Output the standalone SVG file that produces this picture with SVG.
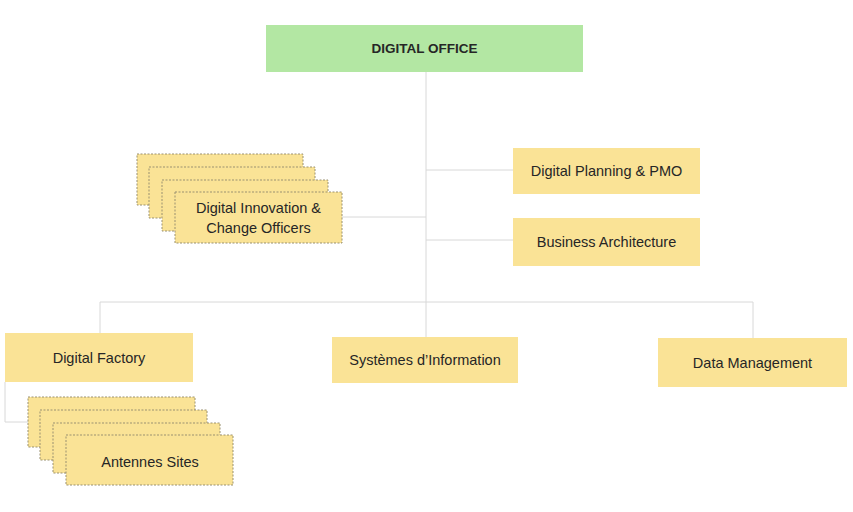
<svg xmlns="http://www.w3.org/2000/svg" width="853" height="512" viewBox="0 0 853 512">
<style>
.box{fill:#fae396;stroke:none}
.stk{fill:#fae396;stroke:#9a9170;stroke-width:1;stroke-dasharray:2 1.5}
.top{fill:#b3e7a3}
.t{font-family:"Liberation Sans",Arial,sans-serif;font-size:14.5px;fill:#262626;text-anchor:middle;dominant-baseline:central}
.b{font-weight:bold;font-size:13.5px}
.ln{stroke:#d8d8d8;stroke-width:1;fill:none}
</style>
<rect width="853" height="512" fill="#ffffff"/>
<g id="connectors">
<path class="ln" d="M426 72 V337"/>
<path class="ln" d="M426 170 H513"/>
<path class="ln" d="M426 240 H513"/>
<path class="ln" d="M342 217 H426"/>
<path class="ln" d="M100 333 V302 H753 V338"/>
<path class="ln" d="M5 382 V422 H28"/>
</g>
<g id="digital-office">
<rect class="top" x="266" y="25" width="317" height="47"/>
<text class="t b" x="424.5" y="48.5">DIGITAL OFFICE</text>
</g>
<g id="digital-planning">
<rect class="box" x="513" y="148" width="187" height="46"/>
<text class="t" x="606.5" y="171">Digital Planning &amp; PMO</text>
</g>
<g id="business-architecture">
<rect class="box" x="513" y="218" width="187" height="48"/>
<text class="t" x="606.5" y="242">Business Architecture</text>
</g>
<g id="digital-innovation">
<rect class="stk" x="137" y="154" width="166" height="51"/>
<rect class="stk" x="149" y="167" width="166" height="51"/>
<rect class="stk" x="162" y="180" width="166" height="51"/>
<rect class="stk" x="175" y="192" width="167" height="51"/>
<text class="t" x="258.5" y="208">Digital Innovation &amp;</text>
<text class="t" x="258.5" y="228">Change Officers</text>
</g>
<g id="digital-factory">
<rect class="box" x="5" y="333" width="188" height="49"/>
<text class="t" x="99" y="357.5">Digital Factory</text>
</g>
<g id="antennes-sites">
<rect class="stk" x="28" y="397" width="167" height="50"/>
<rect class="stk" x="40" y="410" width="167" height="50"/>
<rect class="stk" x="53" y="423" width="167" height="50"/>
<rect class="stk" x="66" y="435" width="167" height="50"/>
<text class="t" x="150" y="462">Antennes Sites</text>
</g>
<g id="systemes-information">
<rect class="box" x="332" y="337" width="186" height="46"/>
<text class="t" x="425" y="360">Systèmes d’Information</text>
</g>
<g id="data-management">
<rect class="box" x="658" y="338" width="189" height="49"/>
<text class="t" x="752.5" y="362.5">Data Management</text>
</g>
</svg>
